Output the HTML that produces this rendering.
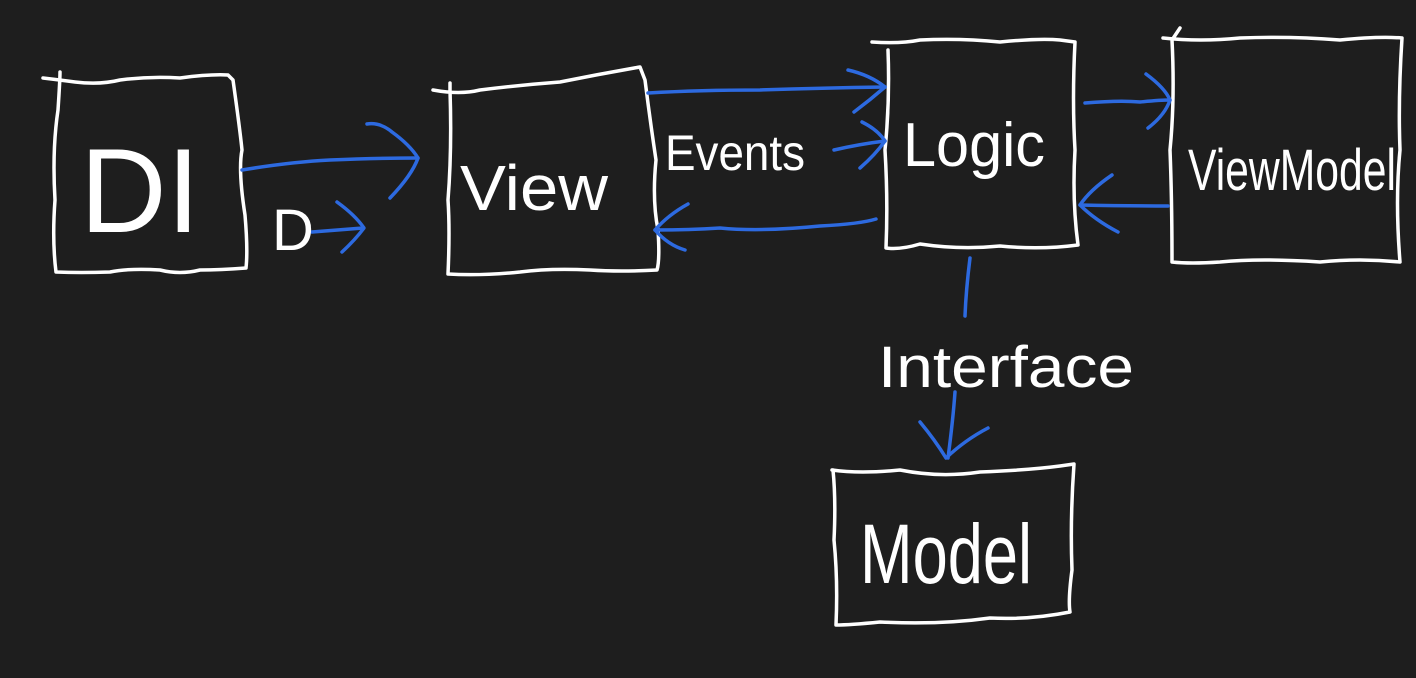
<!DOCTYPE html>
<html><head><meta charset="utf-8"><style>
html,body{margin:0;padding:0;background:#1e1e1e;width:1416px;height:678px;overflow:hidden}
svg{display:block}
text{font-family:"Liberation Sans",sans-serif;fill:#fff}
</style></head><body>
<svg width="1416" height="678" viewBox="0 0 1416 678">
<g fill="none" stroke="#fff" stroke-width="3.5" stroke-linecap="round" stroke-linejoin="round">
<!-- DI -->
<path d="M43 78 Q60 80 75 82 Q100 85 120 80 Q150 76 180 78 Q210 74 228 75 L233 80 Q240 130 242 150 Q238 170 245 215 Q248 250 246 268 Q220 270 200 270 Q180 275 160 270 Q130 268 110 272 Q80 273 56 272 Q52 240 55 200 Q52 150 58 110 Q60 80 60 72"/>
<!-- View -->
<path d="M433 90 Q460 95 480 90 Q520 85 560 82 Q600 74 640 67 L645 80 Q650 120 656 160 Q652 200 658 230 Q660 260 657 270 Q620 272 590 270 Q550 268 520 272 Q480 276 448 274 Q450 230 448 200 Q452 150 450 90 L450 83"/>
<!-- Logic -->
<path d="M872 42 Q900 44 920 40 Q960 38 1000 42 Q1040 38 1060 40 L1075 42 Q1072 100 1075 150 Q1072 200 1078 245 Q1040 250 1000 246 Q960 250 920 244 Q900 250 886 248 Q888 200 885 150 Q890 100 888 50"/>
<!-- ViewModel -->
<path d="M1163 38 Q1200 42 1240 38 Q1290 36 1340 40 Q1380 36 1402 38 Q1398 100 1400 150 Q1395 200 1400 262 Q1360 258 1320 262 Q1260 258 1220 262 Q1190 264 1172 262 Q1172 200 1170 150 Q1175 100 1172 40 L1180 28"/>
<!-- Model -->
<path d="M832 470 Q860 474 900 470 Q940 478 980 472 Q1030 470 1060 466 L1074 464 Q1070 520 1072 570 Q1068 600 1070 612 Q1030 620 990 618 Q940 625 880 622 Q850 625 836 625 Q838 580 834 540 Q836 500 833 470"/>
</g>
<g fill="none" stroke="#2d6ae0" stroke-width="3.5" stroke-linecap="round" stroke-linejoin="round">
<path d="M242 170 Q290 162 330 160 Q380 158 418 158"/>
<path d="M367 124 Q380 122 392 132 Q410 145 418 158 Q412 175 390 198"/>
<path d="M312 232 L363 228"/>
<path d="M337 202 Q355 215 364 228 Q355 240 342 252"/>
<path d="M648 93 Q700 90 760 90 Q820 88 885 87"/>
<path d="M848 70 Q870 75 885 87 Q870 100 854 112"/>
<path d="M834 150 Q860 144 885 141"/>
<path d="M862 122 Q878 130 885 141 Q875 155 860 168"/>
<path d="M876 219 Q860 224 820 226 Q760 232 720 228 Q690 230 655 230"/>
<path d="M688 204 Q668 215 655 230 Q668 245 685 250"/>
<path d="M1085 103 Q1120 100 1140 102 Q1160 100 1170 100"/>
<path d="M1146 74 Q1165 88 1170 100 Q1165 115 1148 128"/>
<path d="M1168 206 Q1130 206 1080 205"/>
<path d="M1112 175 Q1090 190 1080 205 Q1095 220 1118 232"/>
<path d="M970 258 Q966 290 965 316"/>
<path d="M955 392 Q953 420 948 458"/>
<path d="M920 422 Q935 440 946 458 Q965 440 988 428"/>
</g>
<text x="80" y="232" font-size="120" textLength="120" lengthAdjust="spacingAndGlyphs">DI</text>
<text x="272" y="250" font-size="58">D</text>
<text x="460" y="210" font-size="64" textLength="148" lengthAdjust="spacingAndGlyphs">View</text>
<text x="665" y="170" font-size="50" textLength="140" lengthAdjust="spacingAndGlyphs">Events</text>
<text x="903" y="166" font-size="62" textLength="142" lengthAdjust="spacingAndGlyphs">Logic</text>
<text x="1188" y="190" font-size="58" textLength="208" lengthAdjust="spacingAndGlyphs">ViewModel</text>
<text x="878" y="387" font-size="58" textLength="256" lengthAdjust="spacingAndGlyphs">Interface</text>
<text x="860" y="583" font-size="84" textLength="172" lengthAdjust="spacingAndGlyphs">Model</text>
</svg>
</body></html>
